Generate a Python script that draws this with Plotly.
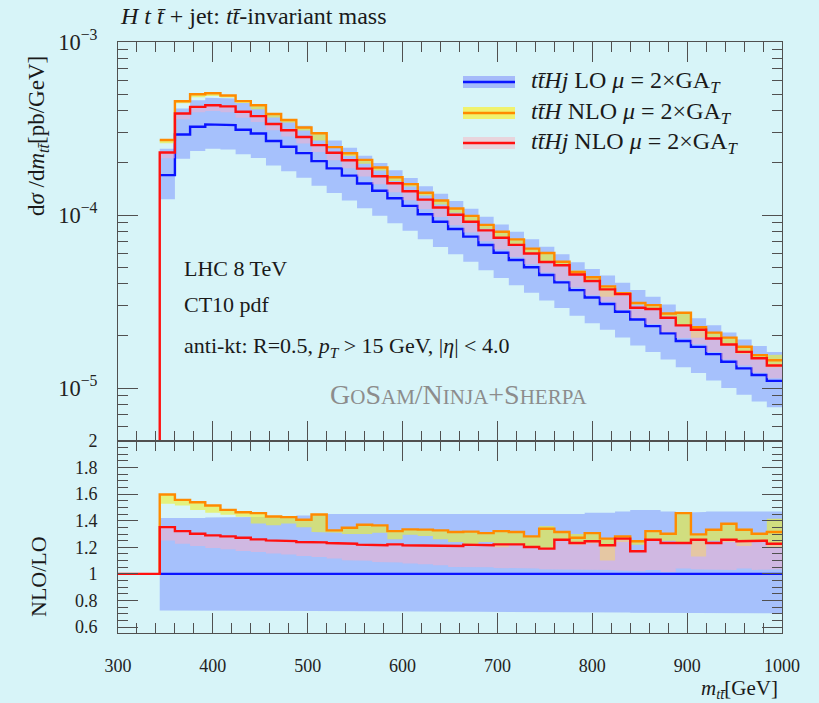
import plotly.graph_objects as go

# ---------------- data ----------------
bin_edges = [344 + 16 * i for i in range(42)]  # 344 ... 1000 GeV

# LO ttHj central prediction [pb/GeV]
lo_central = [1.70e-4, 2.92e-4, 3.24e-4, 3.34e-4, 3.31e-4, 3.11e-4, 2.96e-4, 2.68e-4, 2.48e-4, 2.28e-4,
              2.05e-4, 1.86e-4, 1.69e-4, 1.52e-4, 1.38e-4, 1.25e-4, 1.13e-4, 1.01e-4, 9.14e-5, 8.30e-5,
              7.50e-5, 6.71e-5, 6.05e-5, 5.50e-5, 4.99e-5, 4.50e-5, 4.08e-5, 3.68e-5, 3.34e-5, 3.06e-5,
              2.76e-5, 2.49e-5, 2.28e-5, 2.07e-5, 1.87e-5, 1.73e-5, 1.57e-5, 1.42e-5, 1.30e-5, 1.19e-5,
              1.10e-5]

# LO scale band relative to LO central
lo_band_up = [1.42, 1.415, 1.42, 1.425, 1.425, 1.43, 1.43, 1.43, 1.43, 1.44,
              1.45, 1.45, 1.45, 1.45, 1.45, 1.45, 1.45, 1.45, 1.45, 1.45,
              1.45, 1.455, 1.455, 1.455, 1.45, 1.455, 1.455, 1.45, 1.46, 1.46,
              1.47, 1.48, 1.48, 1.47, 1.46, 1.465, 1.47, 1.475, 1.47, 1.47,
              1.47]
lo_band_lo = [0.725, 0.725, 0.724, 0.724, 0.723, 0.723, 0.722, 0.722, 0.721, 0.721,
              0.72, 0.72, 0.719, 0.719, 0.718, 0.718, 0.717, 0.717, 0.716, 0.716,
              0.715, 0.714, 0.714, 0.713, 0.713, 0.712, 0.712, 0.711, 0.71, 0.71,
              0.709, 0.708, 0.708, 0.707, 0.706, 0.706, 0.705, 0.704, 0.704, 0.703,
              0.703]

# ttH NLO / LO (orange)
tth_ratio = [1.597, 1.557, 1.539, 1.515, 1.482, 1.464, 1.457, 1.432, 1.427, 1.407,
             1.447, 1.327, 1.347, 1.37, 1.365, 1.322, 1.335, 1.333, 1.327, 1.315,
             1.318, 1.307, 1.322, 1.315, 1.282, 1.34, 1.315, 1.272, 1.307, 1.265,
             1.282, 1.245, 1.322, 1.302, 1.457, 1.297, 1.332, 1.377, 1.332, 1.302,
             1.315]
tth_band_up = [1.597, 1.557, 1.539, 1.515, 1.482, 1.464, 1.457, 1.432, 1.427, 1.407,
               1.447, 1.327, 1.347, 1.37, 1.365, 1.322, 1.335, 1.333, 1.327, 1.315,
               1.318, 1.307, 1.322, 1.315, 1.282, 1.36, 1.315, 1.30, 1.307, 1.265,
               1.282, 1.245, 1.322, 1.302, 1.457, 1.297, 1.332, 1.38, 1.34, 1.302,
               1.415]
tth_band_lo = [1.527, 1.515, 1.48, 1.46, 1.445, 1.43, 1.38, 1.365, 1.38, 1.35,
               1.315, 1.31, 1.30, 1.30, 1.31, 1.26, 1.295, 1.285, 1.26, 1.24,
               1.22, 1.24, 1.20, 1.22, 1.20, 1.19, 1.25, 1.22, 1.23, 1.10,
               1.24, 1.22, 1.25, 1.25, 1.23, 1.13, 1.25, 1.24, 1.21, 1.24,
               1.20]

# ttHj NLO / LO (red)
tthj_ratio = [1.352, 1.322, 1.302, 1.29, 1.282, 1.272, 1.26, 1.252, 1.247, 1.24,
              1.237, 1.232, 1.227, 1.22, 1.215, 1.222, 1.215, 1.215, 1.21, 1.21,
              1.22, 1.215, 1.222, 1.222, 1.202, 1.19, 1.257, 1.232, 1.245, 1.215,
              1.265, 1.17, 1.257, 1.232, 1.232, 1.257, 1.232, 1.257, 1.245, 1.25,
              1.227]
tthj_band_lo = [1.252, 1.227, 1.21, 1.195, 1.185, 1.172, 1.165, 1.153, 1.145, 1.135,
                1.127, 1.115, 1.103, 1.098, 1.09, 1.085, 1.078, 1.072, 1.065, 1.052,
                1.055, 1.05, 1.045, 1.04, 1.04, 1.035, 1.03, 1.035, 1.03, 1.03,
                1.025, 1.02, 1.03, 1.015, 1.04, 1.035, 1.03, 1.03, 1.04, 1.03,
                1.035]

x_ticks = [300, 400, 500, 600, 700, 800, 900, 1000]
ratio_ticks = [0.6, 0.8, 1, 1.2, 1.4, 1.6, 1.8, 2]

legend_labels = [
    "<i>t</i><i>t̄</i><i>Hj</i> LO <i>μ</i> = 2×GA<sub><i>T</i></sub>",
    "<i>t</i><i>t̄</i><i>H</i> NLO <i>μ</i> = 2×GA<sub><i>T</i></sub>",
    "<i>t</i><i>t̄</i><i>Hj</i> NLO <i>μ</i> = 2×GA<sub><i>T</i></sub>",
]

# ---------------- styling ----------------
BG = "#d7f4f8"
FONT = "Liberation Serif"
AXC = "#505050"
BLUE, ORANGE, RED = "#0a14ff", "#ff8a00", "#ff1010"
BLUE_F = "rgba(120,145,255,0.52)"
YEL_F = "rgba(235,240,50,0.62)"
PINK_F = "rgba(250,175,200,0.50)"

L, R, T, B = 118, 782, 42, 633
W, H = R - L, B - T
SPLIT = 441
top_dom = [(B - SPLIT) / H, 1.0]
bot_dom = [0.0, (B - SPLIT) / H]


def pp(x, y):
    return (x - L) / W, (B - y) / H


def steps(edges, vals):
    xs, ys = [], []
    for i, v in enumerate(vals):
        xs += [edges[i], edges[i + 1]]
        ys += [v, v]
    return xs, ys


def band(edges, up, lo):
    xu, yu = steps(edges, up)
    xl, yl = steps(edges, lo)
    return xu + xl[::-1], yu + yl[::-1]


fig = go.Figure()

# derived absolute curves (NLO = LO * ratio)
abs_lo_up = [c * r for c, r in zip(lo_central, lo_band_up)]
abs_lo_lo = [c * r for c, r in zip(lo_central, lo_band_lo)]
abs_tth = [c * r for c, r in zip(lo_central, tth_ratio)]
abs_tth_up = [c * r for c, r in zip(lo_central, tth_band_up)]
abs_tth_lo = [c * r for c, r in zip(lo_central, tth_band_lo)]
abs_tthj = [c * r for c, r in zip(lo_central, tthj_ratio)]
abs_tthj_lo = [c * r for c, r in zip(lo_central, tthj_band_lo)]

ones = [1.0] * len(lo_central)

for (xa, ya), data in [(("x", "y"), dict(
        lo_up=abs_lo_up, lo_lo=abs_lo_lo, lo=lo_central,
        tth_up=abs_tth_up, tth_lo=abs_tth_lo, tth=abs_tth,
        tthj_up=abs_tthj, tthj_lo=abs_tthj_lo, tthj=abs_tthj, base=1e-9)),
        (("x2", "y2"), dict(
        lo_up=lo_band_up, lo_lo=lo_band_lo, lo=ones,
        tth_up=tth_band_up, tth_lo=tth_band_lo, tth=tth_ratio,
        tthj_up=tthj_ratio, tthj_lo=tthj_band_lo, tthj=tthj_ratio, base=1.0))]:
    bx, by = band(bin_edges, data["lo_up"], data["lo_lo"])
    fig.add_trace(go.Scatter(x=bx, y=by, fill="toself", fillcolor=BLUE_F, mode="lines",
                             line=dict(width=0), xaxis=xa, yaxis=ya, hoverinfo="skip"))
    sx, sy = steps(bin_edges, data["lo"])
    fig.add_trace(go.Scatter(x=sx, y=sy, mode="lines", line=dict(color=BLUE, width=2.4),
                             xaxis=xa, yaxis=ya))
    bx, by = band(bin_edges, data["tth_up"], data["tth_lo"])
    fig.add_trace(go.Scatter(x=bx, y=by, fill="toself", fillcolor=YEL_F, mode="lines",
                             line=dict(width=0), xaxis=xa, yaxis=ya, hoverinfo="skip"))
    sx, sy = steps(bin_edges, data["tth"])
    if xa == "x2":
        sx, sy = [bin_edges[0]] + sx, [1.0] + sy
    fig.add_trace(go.Scatter(x=sx, y=sy, mode="lines", line=dict(color=ORANGE, width=2.4),
                             xaxis=xa, yaxis=ya))
    bx, by = band(bin_edges, data["tthj_up"], data["tthj_lo"])
    fig.add_trace(go.Scatter(x=bx, y=by, fill="toself", fillcolor=PINK_F, mode="lines",
                             line=dict(width=0), xaxis=xa, yaxis=ya, hoverinfo="skip"))
    sx, sy = steps(bin_edges, data["tthj"])
    if xa == "x2":
        sx, sy = [x_ticks[0], bin_edges[0]] + sx, [1.0, 1.0] + sy
    else:
        sx, sy = [bin_edges[0]] + sx, [data["base"]] + sy
    fig.add_trace(go.Scatter(x=sx, y=sy, mode="lines", line=dict(color=RED, width=2.4),
                             xaxis=xa, yaxis=ya))

tickfont = dict(family=FONT, size=18, color="#222")
common_x = dict(range=[300, 1000], tickmode="array", tickvals=x_ticks, ticks="inside", ticklen=20,
                tickcolor=AXC, showline=True, linecolor=AXC, linewidth=1, mirror="ticks",
                showgrid=False, zeroline=False,
                minor=dict(dtick=20, tick0=300, ticks="inside", ticklen=10, tickcolor=AXC, showgrid=False))

fig.update_layout(
    width=819, height=703,
    margin=dict(l=L, r=819 - R, t=T, b=703 - B),
    paper_bgcolor=BG, plot_bgcolor=BG,
    showlegend=False,
    font=dict(family=FONT, color="#222"),
    xaxis=dict(domain=[0, 1], anchor="y", showticklabels=False, **common_x),
    xaxis2=dict(domain=[0, 1], anchor="y2", showticklabels=True, tickfont=tickfont,
                ticklabelstandoff=16, **common_x),
    yaxis=dict(domain=top_dom, anchor="x", type="log", range=[-5.306, -3.0], dtick=1,
               exponentformat="power", showexponent="all", ticks="inside", ticklen=20,
               tickcolor=AXC, showline=True, linecolor=AXC, mirror="ticks", showgrid=False,
               tickfont=tickfont, ticklabelstandoff=16,
               minor=dict(ticks="inside", ticklen=10, tickcolor=AXC, showgrid=False)),
    yaxis2=dict(domain=bot_dom, anchor="x2", range=[0.555, 2.0], tickmode="array",
                tickvals=ratio_ticks, ticktext=[str(v) if v not in (1, 2) else str(int(v)) for v in ratio_ticks],
                ticks="inside", ticklen=20, tickcolor=AXC, showline=True, linecolor=AXC,
                mirror="ticks", showgrid=False, zeroline=False, tickfont=tickfont,
                ticklabelstandoff=16,
                minor=dict(dtick=0.05, tick0=0, ticks="inside", ticklen=10, tickcolor=AXC, showgrid=False)),
)

ann = []


def add_text(x, y, text, size=19, xanchor="left", color="#1a1a1a", angle=0, yanchor="middle"):
    px_, py_ = pp(x, y)
    ann.append(dict(x=px_, y=py_, xref="paper", yref="paper", text=text, showarrow=False,
                    xanchor=xanchor, yanchor=yanchor, textangle=angle,
                    font=dict(family=FONT, size=size, color=color)))


add_text(118, 16, "<i>H t t̄</i> + jet: <i>tt̄</i>-invariant mass", size=24)
add_text(38, 136, "d<i>σ</i> /d<i>m</i><sub><i>tt̄</i></sub>[pb/GeV]", size=23, xanchor="center", angle=-90)
add_text(38, 577, "NLO/LO", size=22, xanchor="center", angle=-90)
add_text(780, 689, "<i>m</i><sub><i>tt̄</i></sub>[GeV]", size=21, xanchor="right")
add_text(182, 268, "LHC 8 TeV", size=22)
add_text(182, 304, "CT10 pdf", size=22)
add_text(182, 347, "anti-kt: R=0.5, <i>p</i><sub><i>T</i></sub> &gt; 15 GeV, |<i>η</i>| &lt; 4.0", size=22)
sc = "<span style='font-size:21px'>"
add_text(458, 394, "G" + sc + "O</span>S" + sc + "AM</span>/N" + sc + "INJA</span>+S" + sc + "HERPA</span>",
         size=28, xanchor="center", color="#8c8c8c")

legend_y = [82, 113, 143]
legend_band = ["rgba(160,180,250,0.9)", "rgba(240,242,110,1)", "rgba(232,212,220,1)"]
legend_line = [BLUE, ORANGE, RED]
shapes = []
for ly, lab, bc, lc in zip(legend_y, legend_labels, legend_band, legend_line):
    x0, y0 = pp(463, ly - 6)
    x1, y1 = pp(515, ly + 6)
    shapes.append(dict(type="rect", xref="paper", yref="paper", x0=x0, x1=x1, y0=y1, y1=y0,
                       fillcolor=bc, line=dict(width=0)))
    xa0, yc = pp(463, ly)
    xa1, _ = pp(515, ly)
    shapes.append(dict(type="line", xref="paper", yref="paper", x0=xa0, x1=xa1, y0=yc, y1=yc,
                       line=dict(color=lc, width=2.4)))
    add_text(529, ly, lab, size=24)

fig.update_layout(annotations=ann, shapes=shapes)
fig.write_html("out.html")
